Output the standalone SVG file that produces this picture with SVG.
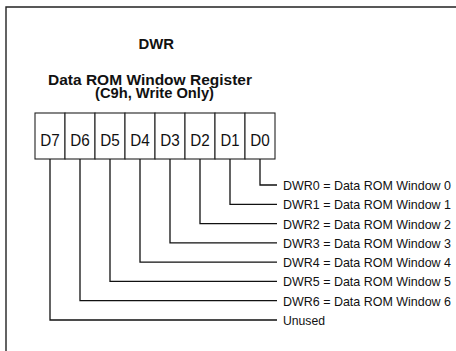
<svg xmlns="http://www.w3.org/2000/svg" width="456" height="351" viewBox="0 0 456 351">
<style>
  .frame{fill:none;stroke:#222;stroke-width:1.4}
  .box{fill:#fff;stroke:#222;stroke-width:1.1}
  .conn{fill:none;stroke:#111;stroke-width:1.3}
  .title{font-family:"Liberation Sans",Arial,sans-serif;font-weight:bold;font-size:15px;fill:#111}
  .bit{font-family:"Liberation Sans",Arial,sans-serif;font-size:16.5px;fill:#111;text-anchor:middle}
  .lbl{font-family:"Liberation Sans",Arial,sans-serif;font-size:12.8px;fill:#111}
</style>
<rect x="0" y="0" width="456" height="351" fill="#fff"/>
<path class="frame" d="M6 351 V7 H456"/>
<g id="title">
  <text class="title" x="138.5" y="49" textLength="35.5" lengthAdjust="spacingAndGlyphs">DWR</text>
  <text class="title" x="48" y="85" textLength="204" lengthAdjust="spacingAndGlyphs">Data ROM Window Register</text>
  <text class="title" x="95" y="98" textLength="119" lengthAdjust="spacingAndGlyphs">(C9h, Write Only)</text>
</g>
<g id="register">
  <g id="bit-D7"><rect class="box" x="35" y="113" width="30" height="46"/><text class="bit" x="50" y="146" textLength="19.5" lengthAdjust="spacingAndGlyphs">D7</text></g>
  <g id="bit-D6"><rect class="box" x="65" y="113" width="30" height="46"/><text class="bit" x="80" y="146" textLength="19.5" lengthAdjust="spacingAndGlyphs">D6</text></g>
  <g id="bit-D5"><rect class="box" x="95" y="113" width="30" height="46"/><text class="bit" x="110" y="146" textLength="19.5" lengthAdjust="spacingAndGlyphs">D5</text></g>
  <g id="bit-D4"><rect class="box" x="125" y="113" width="30" height="46"/><text class="bit" x="140" y="146" textLength="19.5" lengthAdjust="spacingAndGlyphs">D4</text></g>
  <g id="bit-D3"><rect class="box" x="155" y="113" width="30" height="46"/><text class="bit" x="170" y="146" textLength="19.5" lengthAdjust="spacingAndGlyphs">D3</text></g>
  <g id="bit-D2"><rect class="box" x="185" y="113" width="30" height="46"/><text class="bit" x="200" y="146" textLength="19.5" lengthAdjust="spacingAndGlyphs">D2</text></g>
  <g id="bit-D1"><rect class="box" x="215" y="113" width="30" height="46"/><text class="bit" x="230" y="146" textLength="19" lengthAdjust="spacingAndGlyphs">D1</text></g>
  <g id="bit-D0"><rect class="box" x="245" y="113" width="30" height="46"/><text class="bit" x="260" y="146" textLength="19.5" lengthAdjust="spacingAndGlyphs">D0</text></g>
</g>
<g id="connectors">
  <polyline class="conn" points="260,159 260,185 277,185"/>
  <polyline class="conn" points="230,159 230,204.3 277,204.3"/>
  <polyline class="conn" points="200,159 200,223.6 277,223.6"/>
  <polyline class="conn" points="170,159 170,242.9 277,242.9"/>
  <polyline class="conn" points="140,159 140,262.1 277,262.1"/>
  <polyline class="conn" points="110,159 110,281.4 277,281.4"/>
  <polyline class="conn" points="80,159 80,300.7 277,300.7"/>
  <polyline class="conn" points="50,159 50,320 277,320"/>
</g>
<g id="labels">
  <g id="label-DWR0"><text class="lbl" x="283" y="190" textLength="168" lengthAdjust="spacingAndGlyphs">DWR0 = Data ROM Window 0</text></g>
  <g id="label-DWR1"><text class="lbl" x="283" y="209.3" textLength="168" lengthAdjust="spacingAndGlyphs">DWR1 = Data ROM Window 1</text></g>
  <g id="label-DWR2"><text class="lbl" x="283" y="228.6" textLength="168" lengthAdjust="spacingAndGlyphs">DWR2 = Data ROM Window 2</text></g>
  <g id="label-DWR3"><text class="lbl" x="283" y="247.9" textLength="168" lengthAdjust="spacingAndGlyphs">DWR3 = Data ROM Window 3</text></g>
  <g id="label-DWR4"><text class="lbl" x="283" y="267.1" textLength="168" lengthAdjust="spacingAndGlyphs">DWR4 = Data ROM Window 4</text></g>
  <g id="label-DWR5"><text class="lbl" x="283" y="286.4" textLength="168" lengthAdjust="spacingAndGlyphs">DWR5 = Data ROM Window 5</text></g>
  <g id="label-DWR6"><text class="lbl" x="283" y="305.7" textLength="168" lengthAdjust="spacingAndGlyphs">DWR6 = Data ROM Window 6</text></g>
  <g id="label-unused"><text class="lbl" x="283" y="325" textLength="42" lengthAdjust="spacingAndGlyphs">Unused</text></g>
</g>
</svg>
